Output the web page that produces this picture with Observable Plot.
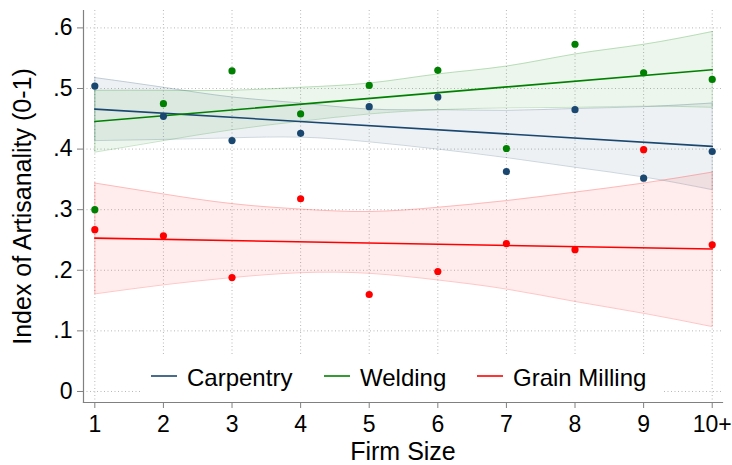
<!DOCTYPE html>
<html>
<head>
<meta charset="utf-8">
<script src="https://cdn.jsdelivr.net/npm/d3@7"></script>
<script src="https://cdn.jsdelivr.net/npm/@observablehq/plot@0.6"></script>
<style>
  html, body { margin: 0; padding: 0; background: #fff; }
  #chart { width: 732px; height: 465px; }
</style>
</head>
<body>
<div id="chart"></div>
<script>
// ---- Data ----
const firmSize = [1, 2, 3, 4, 5, 6, 7, 8, 9, 10];
const xTickLabels = ["1", "2", "3", "4", "5", "6", "7", "8", "9", "10+"];
const yTicks = [0, 0.1, 0.2, 0.3, 0.4, 0.5, 0.6];
const yTickLabels = ["0", ".1", ".2", ".3", ".4", ".5", ".6"];

const seriesNames = ["Carpentry", "Welding", "Grain Milling"];
const seriesColors = ["#1a476f", "#008000", "#ff0000"];

// mean index per firm size (scatter)
const carpentry = [0.504, 0.454, 0.414, 0.426, 0.470, 0.486, 0.363, 0.465, 0.352, 0.396];
const welding   = [0.300, 0.475, 0.529, 0.458, 0.505, 0.530, 0.401, 0.573, 0.526, 0.515];
const grain     = [0.267, 0.257, 0.188, 0.318, 0.160, 0.198, 0.244, 0.234, 0.399, 0.242];

// fitted lines (values at firm size 1 and 10)
const fitX = [1, 10];
const carpentryFit = [0.466, 0.4045];
const weldingFit   = [0.4455, 0.531];
const grainFit     = [0.253, 0.235];

// confidence bands (upper / lower at each firm size)
const carpentryHi = [0.518, 0.502, 0.486, 0.476, 0.466, 0.465, 0.464, 0.467, 0.470, 0.476];
const carpentryLo = [0.414, 0.416, 0.4186, 0.4197, 0.412, 0.400, 0.386, 0.370, 0.354, 0.333];
const weldingHi   = [0.497, 0.497, 0.497, 0.502, 0.509, 0.524, 0.537, 0.557, 0.573, 0.594];
const weldingLo   = [0.395, 0.414, 0.432, 0.446, 0.458, 0.465, 0.468, 0.469, 0.471, 0.469];
const grainHi     = [0.344, 0.326, 0.310, 0.301, 0.297, 0.304, 0.315, 0.329, 0.344, 0.362];
const grainLo     = [0.161, 0.176, 0.188, 0.196, 0.195, 0.184, 0.169, 0.1485, 0.129, 0.107];

// ---- Build tables ----
const pts = [carpentry, welding, grain];
const fits = [carpentryFit, weldingFit, grainFit];
const his = [carpentryHi, weldingHi, grainHi];
const los = [carpentryLo, weldingLo, grainLo];

const bandMarks = [];
const fitMarks = [];
const dotMarks = [];
[0, 1, 2].forEach(s => {
  const col = seriesColors[s];
  const band = firmSize.map((x, i) => ({x, lo: los[s][i], hi: his[s][i]}));
  bandMarks.push(Plot.areaY(band, {x: "x", y1: "lo", y2: "hi", fill: col, fillOpacity: 0.075, curve: "natural"}));
  bandMarks.push(Plot.lineY(band, {x: "x", y: "hi", stroke: col, strokeOpacity: 0.22, strokeWidth: 1, curve: "natural"}));
  bandMarks.push(Plot.lineY(band, {x: "x", y: "lo", stroke: col, strokeOpacity: 0.22, strokeWidth: 1, curve: "natural"}));
  bandMarks.push(Plot.ruleX([band[0], band[band.length - 1]], {x: "x", y1: "lo", y2: "hi", stroke: col, strokeOpacity: 0.22, strokeWidth: 1}));
  const fit = fitX.map((x, i) => ({x, y: fits[s][i]}));
  fitMarks.push(Plot.line(fit, {x: "x", y: "y", stroke: col, strokeWidth: 1.6}));
  const p = firmSize.map((x, i) => ({x, y: pts[s][i]}));
  dotMarks.push(Plot.dot(p, {x: "x", y: "y", r: 3.6, fill: col, stroke: "none"}));
});

const FONT = "'Liberation Sans', Arial, Helvetica, sans-serif";
const gridStyle = {stroke: "#b8b8b8", strokeOpacity: 1, strokeWidth: 1, strokeDasharray: "1,2.5"};

const chart = Plot.plot({
  width: 732,
  height: 465,
  marginLeft: 83,
  marginRight: 10,
  marginTop: 10,
  marginBottom: 63,
  style: {fontFamily: FONT, fontSize: "23px", color: "#000", background: "#fff"},
  x: {domain: [0.835, 10.15]},
  y: {domain: [-0.0182, 0.6287]},
  marks: [
    Plot.gridY(yTicks, gridStyle),
    Plot.gridX(firmSize, gridStyle),
    ...bandMarks,
    ...fitMarks,
    ...dotMarks,
    Plot.frame({anchor: "left", stroke: "#808080", strokeWidth: 1.2}),
    Plot.frame({anchor: "bottom", stroke: "#808080", strokeWidth: 1.2}),
    Plot.axisY(yTicks, {tickFormat: (d, i) => yTickLabels[i], tickSize: 6, tickPadding: 5, label: null, fontSize: 23, stroke: "#808080"}),
    Plot.axisX(firmSize, {tickFormat: (d, i) => xTickLabels[i], tickSize: 6, tickPadding: 7, label: null, fontSize: 23, stroke: "#808080"}),
    Plot.text(["Firm Size"], {frameAnchor: "bottom", dy: 49, fontSize: 25, fill: "#000", textAnchor: "middle", lineAnchor: "middle"}),
    Plot.text(["Index of Artisanality (0-1)"], {frameAnchor: "left", dx: -61, rotate: -90, fontSize: 25, fill: "#000", textAnchor: "middle", lineAnchor: "middle"})
  ]
});

document.getElementById("chart").appendChild(chart);

// ---- Legend inside the plot area (Stata-style, at bottom) ----
const svg = d3.select(chart);
const lg = svg.append("g")
  .attr("font-family", FONT)
  .attr("font-size", 24)
  .attr("text-anchor", "start");
lg.append("rect")
  .attr("x", 140).attr("y", 354).attr("width", 523).attr("height", 46)
  .attr("fill", "#ffffff").style("fill", "#ffffff").attr("stroke", "none");
const legendItems = [
  {name: seriesNames[0], color: seriesColors[0], x: 151},
  {name: seriesNames[1], color: seriesColors[1], x: 324},
  {name: seriesNames[2], color: seriesColors[2], x: 477}
];
legendItems.forEach(it => {
  lg.append("line").attr("x1", it.x).attr("x2", it.x + 26).attr("y1", 376).attr("y2", 376)
    .attr("stroke", it.color).attr("stroke-width", 1.6);
  lg.append("text").attr("x", it.x + 36).attr("y", 378).attr("dy", "0.35em")
    .attr("text-anchor", "start").attr("fill", "#000").text(it.name);
});
</script>
</body>
</html>
